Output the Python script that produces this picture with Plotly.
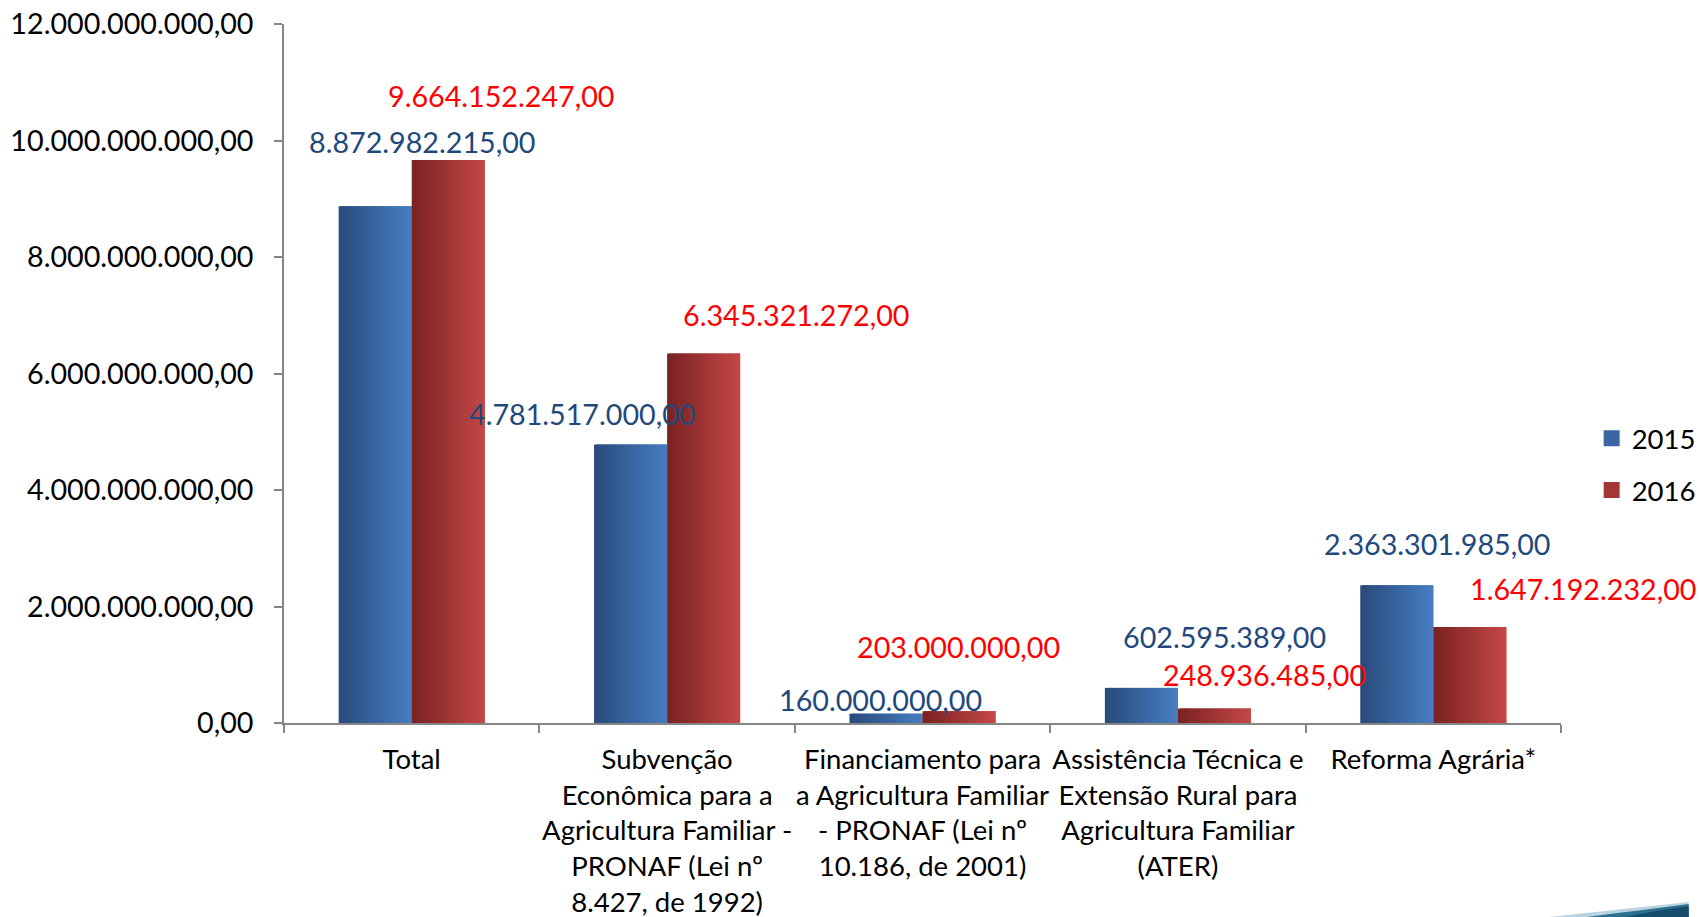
import plotly.graph_objects as go

# Budget lines (R$) for 2015 and 2016
categories = [
    "Total",
    "Subvenção<br>Econômica para a<br>Agricultura Familiar -<br>PRONAF (Lei nº<br>8.427, de 1992)",
    "Financiamento para<br>a Agricultura Familiar<br>- PRONAF (Lei nº<br>10.186, de 2001)",
    "Assistência Técnica e<br>Extensão Rural para<br>Agricultura Familiar<br>(ATER)",
    "Reforma Agrária*",
]
values_2015 = [8872982215.00, 4781517000.00, 160000000.00, 602595389.00, 2363301985.00]
values_2016 = [9664152247.00, 6345321272.00, 203000000.00, 248936485.00, 1647192232.00]
y_ticks = [0, 2e9, 4e9, 6e9, 8e9, 10e9, 12e9]

# label placement (pixel shifts from the top of each bar)
shift_2015 = [(11, 64), (-85, 30), (-42, 14), (47, 51), (4, 41)]
shift_2016 = [(90, 64), (129, 38), (36, 64), (87, 34), (150, 38)]

FONT = "Lato"
BAR_W = 0.286
N_STRIPS = 30


def br(v):
    s = f"{v:,.2f}"
    return s.replace(",", "#").replace(".", ",").replace("#", ".")


def mix(c1, c2, t):
    return "#%02x%02x%02x" % tuple(round(a + (b - a) * t) for a, b in zip(c1, c2))


series = [
    ("2015", values_2015, -BAR_W, (0x2a, 0x4a, 0x7a), (0x46, 0x7e, 0xc2), "#1f497d", shift_2015),
    ("2016", values_2016, 0.0, (0x78, 0x22, 0x22), (0xc6, 0x47, 0x47), "#ff0000", shift_2016),
]

fig = go.Figure()
annotations = []
for name, vals, base_off, c_left, c_right, lab_col, shifts in series:
    sw = BAR_W / N_STRIPS
    # horizontal shading: overlapping strips, left to right
    for k in range(N_STRIPS):
        col = mix(c_left, c_right, (k + 0.5) / N_STRIPS)
        w = sw * 2 if k < N_STRIPS - 1 else sw
        fig.add_trace(go.Bar(
            x=categories, y=vals, width=[w] * len(vals), offset=base_off + k * sw,
            marker=dict(color=col, line=dict(width=0)),
            showlegend=False, hoverinfo="skip",
        ))
    # legend swatch
    fig.add_trace(go.Scatter(
        x=[None], y=[None], mode="markers", name=name, legendgroup=name,
        marker=dict(symbol="square", size=18, color=mix(c_left, c_right, 0.55)),
    ))
    for cat, v, (dx, dy) in zip(categories, vals, shifts):
        annotations.append(dict(
            x=cat, y=v, xref="x", yref="y", text=br(v), showarrow=False,
            xshift=dx, yshift=dy, yanchor="middle", xanchor="center",
            font=dict(family=FONT, size=28.7, color=lab_col),
        ))

# decorative corner swoosh
shapes = [
    dict(type="path", xref="paper", yref="paper", layer="above",
         path="M 0.99 -0.2775 Q 1.07 -0.262 1.1 -0.256 L 1.1 -0.2775 Z",
         fillcolor="#b9d4e0", line=dict(width=0)),
    dict(type="path", xref="paper", yref="paper", layer="above",
         path="M 1.02 -0.2775 Q 1.08 -0.264 1.1 -0.259 L 1.1 -0.2775 Z",
         fillcolor="#2d6f8f", line=dict(width=0)),
    dict(type="path", xref="paper", yref="paper", layer="above",
         path="M 1.05 -0.2775 Q 1.08 -0.266 1.1 -0.262 L 1.1 -0.2775 Z",
         fillcolor="#174d6b", line=dict(width=0)),
]

fig.update_layout(
    width=1700, height=917, autosize=False,
    margin=dict(l=284, r=139, t=24, b=194, autoexpand=False),
    paper_bgcolor="white", plot_bgcolor="white",
    barmode="overlay",
    font=dict(family=FONT, color="black"),
    annotations=annotations,
    shapes=shapes,
    legend=dict(x=1.024, y=0.37, xanchor="left", yanchor="middle",
                font=dict(family=FONT, size=27.5, color="black"),
                tracegroupgap=13, itemsizing="trace", bgcolor="rgba(0,0,0,0)"),
    xaxis=dict(type="category", range=[-0.5, 4.5], tickson="boundaries",
               ticks="outside", ticklen=8, tickcolor="#868686", tickwidth=1.5,
               showline=True, linecolor="#868686", linewidth=1.5,
               showgrid=False, zeroline=False, ticklabelstandoff=11, tickangle=0,
               tickfont=dict(family=FONT, size=27.5, color="black")),
    yaxis=dict(range=[0, 12e9], tickvals=y_ticks, ticktext=[br(v) for v in y_ticks],
               ticks="outside", ticklen=8, tickcolor="#868686", tickwidth=1.5,
               showline=True, linecolor="#868686", linewidth=1.5,
               showgrid=False, zeroline=False, ticklabelstandoff=15,
               tickfont=dict(family=FONT, size=28.7, color="black")),
)

fig.write_html("out.html")
